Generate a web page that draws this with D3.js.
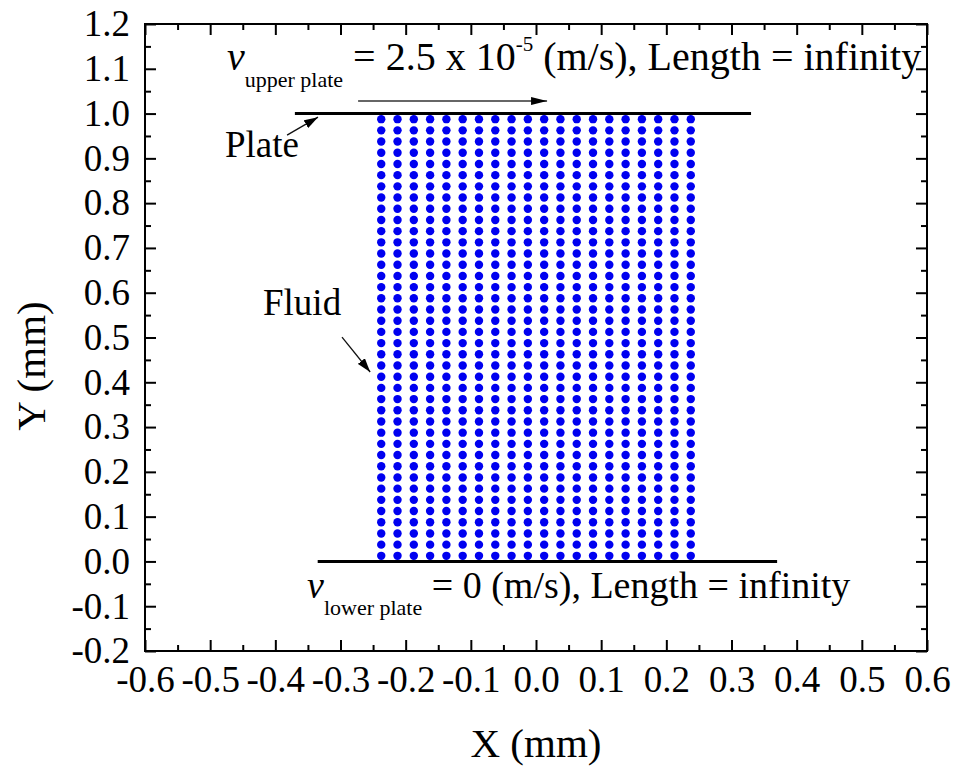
<!DOCTYPE html>
<html>
<head>
<meta charset="utf-8">
<script src="https://cdn.jsdelivr.net/npm/d3@7"></script>
<style>
  body { margin: 0; background: #fff; }
  svg { display: block; }
  text { font-family: "Liberation Serif", "Times New Roman", serif; fill: #000; }
</style>
</head>
<body>
<svg id="chart" width="958" height="773"></svg>
<script>
// ---- data ----
const xTicks = [-0.6, -0.5, -0.4, -0.3, -0.2, -0.1, 0.0, 0.1, 0.2, 0.3, 0.4, 0.5, 0.6];
const yTicks = [-0.2, -0.1, 0.0, 0.1, 0.2, 0.3, 0.4, 0.5, 0.6, 0.7, 0.8, 0.9, 1.0, 1.1, 1.2];
// particle column x positions (mm) and row y positions (mm)
const colX = [-0.2375, -0.2125, -0.1875, -0.1625, -0.1375, -0.1125, -0.0875, -0.0625, -0.0375, -0.0125,
              0.0125, 0.0375, 0.0625, 0.0875, 0.1125, 0.1375, 0.1625, 0.1875, 0.2125, 0.2375];
const rowY = [0.0125, 0.0375, 0.0625, 0.0875, 0.1125, 0.1375, 0.1625, 0.1875, 0.2125, 0.2375,
              0.2625, 0.2875, 0.3125, 0.3375, 0.3625, 0.3875, 0.4125, 0.4375, 0.4625, 0.4875,
              0.5125, 0.5375, 0.5625, 0.5875, 0.6125, 0.6375, 0.6625, 0.6875, 0.7125, 0.7375,
              0.7625, 0.7875, 0.8125, 0.8375, 0.8625, 0.8875, 0.9125, 0.9375, 0.9625, 0.9875];
// plates: [xStart, xEnd, y]
const upperPlate = [-0.37, 0.33, 1.0];
const lowerPlate = [-0.335, 0.37, 0.0];
// arrows: [x1, y1, x2, y2]
const velocityArrow = [-0.273, 1.028, 0.017, 1.028];
const plateArrow = [-0.382, 0.952, -0.3345, 0.992];
const fluidArrow = [-0.2977, 0.501, -0.2545, 0.423];
// label anchor points [x, y]
const plateLabelPos = [-0.4772, 0.903];
const fluidLabelPos = [-0.4189, 0.550];
const upperTextPos = [-0.4742, 1.097];
const lowerTextPos = [-0.3514, -0.0817];

// ---- layout ----
const svg = d3.select("#chart");
const L = 145, R = 927, T = 24, B = 651;
const x = d3.scaleLinear().domain([-0.6, 0.6]).range([L, R]);
const y = d3.scaleLinear().domain([-0.2, 1.2]).range([B, T]);

const f1 = d3.format(".1f");
const fmt = d => f1(Math.abs(d) < 1e-9 ? 0 : d).replace("\u2212", "-");
const xMinor = xTicks.slice(0, -1).map(v => v + 0.05);
const yMinor = yTicks.slice(0, -1).map(v => v + 0.05);

const MAJ = 11, MIN = 6;
const SERIF = '"Liberation Serif", "Times New Roman", serif';

function styleAxis(g) {
  g.select(".domain").remove();
  g.selectAll(".tick line").attr("stroke", "#000").attr("stroke-width", 2);
}

// bottom
const gb = svg.append("g").attr("transform", `translate(0,${B})`)
  .call(d3.axisBottom(x).tickValues(xTicks).tickSize(-MAJ).tickFormat(fmt));
styleAxis(gb);
gb.selectAll(".tick text").attr("y", 41).attr("dy", null).attr("font-size", 37)
  .style("font-family", SERIF).attr("fill", "#000");
svg.append("g").attr("transform", `translate(0,${B})`)
  .call(d3.axisBottom(x).tickValues(xMinor).tickSize(-MIN).tickFormat("")).call(styleAxis);
// top
svg.append("g").attr("transform", `translate(0,${T})`)
  .call(d3.axisTop(x).tickValues(xTicks).tickSize(-MAJ).tickFormat("")).call(styleAxis);
svg.append("g").attr("transform", `translate(0,${T})`)
  .call(d3.axisTop(x).tickValues(xMinor).tickSize(-MIN).tickFormat("")).call(styleAxis);
// left
const gl = svg.append("g").attr("transform", `translate(${L},0)`)
  .call(d3.axisLeft(y).tickValues(yTicks).tickSize(-MAJ).tickFormat(fmt));
styleAxis(gl);
gl.selectAll(".tick text").attr("x", -15).attr("dy", "0.32em").attr("font-size", 37)
  .style("font-family", SERIF).attr("fill", "#000");
svg.append("g").attr("transform", `translate(${L},0)`)
  .call(d3.axisLeft(y).tickValues(yMinor).tickSize(-MIN).tickFormat("")).call(styleAxis);
// right
svg.append("g").attr("transform", `translate(${R},0)`)
  .call(d3.axisRight(y).tickValues(yTicks).tickSize(-MAJ).tickFormat("")).call(styleAxis);
svg.append("g").attr("transform", `translate(${R},0)`)
  .call(d3.axisRight(y).tickValues(yMinor).tickSize(-MIN).tickFormat("")).call(styleAxis);

// frame
svg.append("rect").attr("x", L).attr("y", T).attr("width", R - L).attr("height", B - T)
  .attr("fill", "none").attr("stroke", "#000").attr("stroke-width", 2);

// axis titles
svg.append("text").attr("x", (L + R) / 2).attr("y", 757).attr("text-anchor", "middle")
  .attr("font-size", 41).text("X (mm)");
svg.append("text").attr("transform", "translate(45,366) rotate(-90)").attr("text-anchor", "middle")
  .attr("font-size", 41).text("Y (mm)");

// particles
const pts = [];
rowY.forEach(yy => colX.forEach(xx => pts.push([xx, yy])));
svg.append("g").selectAll("circle").data(pts).join("circle")
  .attr("cx", d => x(d[0])).attr("cy", d => y(d[1])).attr("r", 4.2)
  .attr("fill", "#0000f0");

// plates
[upperPlate, lowerPlate].forEach(p => {
  svg.append("line").attr("x1", x(p[0])).attr("x2", x(p[1]))
    .attr("y1", y(p[2])).attr("y2", y(p[2]))
    .attr("stroke", "#000").attr("stroke-width", 3);
});

// arrow markers
const defs = svg.append("defs");
defs.append("marker").attr("id", "headA").attr("markerUnits", "userSpaceOnUse")
  .attr("viewBox", "0 0 16 8").attr("refX", 16).attr("refY", 4)
  .attr("markerWidth", 16).attr("markerHeight", 8).attr("orient", "auto")
  .append("path").attr("d", "M0,0 L16,4 L0,8 Z").attr("fill", "#000");
defs.append("marker").attr("id", "headB").attr("markerUnits", "userSpaceOnUse")
  .attr("viewBox", "0 0 14 9").attr("refX", 14).attr("refY", 4.5)
  .attr("markerWidth", 14).attr("markerHeight", 9).attr("orient", "auto")
  .append("path").attr("d", "M0,0 L14,4.5 L0,9 Z").attr("fill", "#000");

svg.append("line")
  .attr("x1", x(velocityArrow[0])).attr("y1", y(velocityArrow[1]))
  .attr("x2", x(velocityArrow[2])).attr("y2", y(velocityArrow[3]))
  .attr("stroke", "#333").attr("stroke-width", 1.5).attr("marker-end", "url(#headA)");
[plateArrow, fluidArrow].forEach(a => {
  svg.append("line")
    .attr("x1", x(a[0])).attr("y1", y(a[1])).attr("x2", x(a[2])).attr("y2", y(a[3]))
    .attr("stroke", "#111").attr("stroke-width", 1.3).attr("marker-end", "url(#headB)");
});

// labels
svg.append("text").attr("x", x(plateLabelPos[0])).attr("y", y(plateLabelPos[1]))
  .attr("font-size", 37).text("Plate");
svg.append("text").attr("x", x(fluidLabelPos[0])).attr("y", y(fluidLabelPos[1]))
  .attr("font-size", 37).text("Fluid");

// upper plate text
const ut = svg.append("text").attr("x", x(upperTextPos[0])).attr("y", y(upperTextPos[1]))
  .attr("font-size", 40);
ut.append("tspan").attr("font-style", "italic").text("v");
ut.append("tspan").attr("font-size", 22).attr("dy", 17).text("upper plate");
ut.append("tspan").attr("dy", -17).text("\u00A0= 2.5 x 10");
ut.append("tspan").attr("font-size", 21).attr("dy", -19).text("-5");
ut.append("tspan").attr("dy", 19).text("\u00A0(m/s), Length = infinity");

// lower plate text
const lt = svg.append("text").attr("x", x(lowerTextPos[0])).attr("y", y(lowerTextPos[1]))
  .attr("font-size", 38);
lt.append("tspan").attr("font-style", "italic").text("v");
lt.append("tspan").attr("font-size", 22).attr("dy", 17).text("lower plate");
lt.append("tspan").attr("dy", -17).text("\u00A0= 0 (m/s), Length = infinity");
</script>
</body>
</html>
